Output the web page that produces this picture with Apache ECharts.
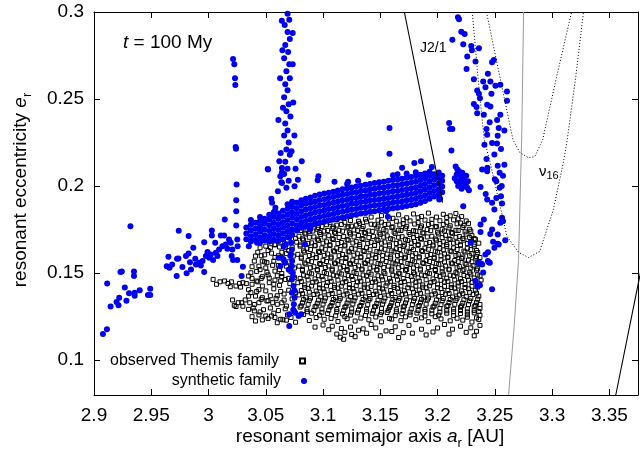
<!DOCTYPE html>
<html><head><meta charset="utf-8">
<script src="https://cdn.jsdelivr.net/npm/echarts@6/dist/echarts.min.js"></script>
<style>html,body{margin:0;padding:0;background:#fff}#c{width:641px;height:456px}</style>
</head><body><div id="c"></div>
<script>
// ---------- tick labels ----------
const xTickLabels = ['2.9','2.95','3','3.05','3.1','3.15','3.2','3.25','3.3','3.35'];
const yTickLabels = ['0.1','0.15','0.2','0.25','0.3'];

// ---------- observed Themis family (open squares) ----------
const themisLeft = [[3.004,.1464],[3.007,.1436],[3.014,.1455],[3.017,.1441],[3.019,.1422],[3.024,.1426],[3.027,.1441],[3.030,.1445],[3.021,.1346],[3.0225,.1315],[3.024,.1308],[3.029,.1330],[3.032,.1346],[3.035,.1368],[3.035,.1483],[3.037,.1502],[3.038,.1537],[3.040,.1569],[3.041,.1598],[3.045,.1646],[3.050,.1655],[3.054,.1646],[3.058,.1665],[3.063,.1678],[3.067,.1646],[3.047,.1569],[3.051,.1560],[3.057,.1569],[3.061,.1544],[3.066,.1560],[3.038,.1436],[3.042,.1455],[3.047,.1426],[3.053,.1445],[3.057,.1436],[3.063,.1455],[3.067,.1464],[3.037,.1388],[3.041,.1368],[3.047,.1359],[3.051,.1340],[3.056,.1330],[3.060,.1321],[3.064,.1330],[3.068,.1311],[3.035,.1292],[3.040,.1283],[3.045,.1277],[3.050,.1254],[3.055,.1254],[3.058,.1245],[3.063,.1235],[3.041,.1225],[3.047,.1231],
[3.010,.1450],[3.020,.1450],[3.028,.1420],[3.033,.1440],[3.026,.1330],[3.030,.1310],[3.039,.1300],[3.044,.1330],[3.054,.1370],[3.060,.1370],[3.066,.1380],[3.046,.1470],[3.052,.1490],[3.058,.1460],[3.064,.1480],[3.070,.1470],[3.044,.1540],[3.050,.1530],[3.062,.1520],[3.068,.1540],[3.046,.1600],[3.052,.1630],[3.058,.1590],[3.064,.1620],[3.070,.1630],[3.055,.1685],[3.062,.1650],[3.069,.1690],[3.044,.1260],[3.057,.1270],[3.069,.1260],[3.060,.1215],[3.068,.1230],[3.038,.1250],[3.036,.1330],[3.042,.1395],[3.038,.1470],[3.042,.1510]];
const themisMid = [[3.043,.1620],[3.049,.1605],[3.055,.1615],[3.061,.1600],[3.068,.1612],[3.074,.1598],[3.045,.1520],[3.051,.1505],[3.058,.1512],[3.064,.1498],[3.072,.1508],[3.047,.1480],[3.053,.1472],[3.060,.1485],[3.075,.1475],[3.044,.1405],[3.050,.1398],[3.057,.1410],[3.063,.1395],[3.070,.1402],[3.076,.1388],[3.046,.1350],[3.052,.1342],[3.059,.1355],[3.066,.1345],[3.073,.1352],[3.048,.1290],[3.054,.1300],[3.061,.1285],[3.067,.1295],[3.075,.1280],[3.052,.1240],[3.065,.1232],[3.072,.1245],[3.076,.1218],[3.073,.1650],[3.076,.1700],[3.070,.1565],[3.075,.1530],[3.071,.1440],[3.062,.1430],[3.056,.1545],[3.049,.1565],[3.043,.1450],[3.040,.1320],[3.035,.1405],[3.058,.1662],[3.050,.1690]];
const themisCore = [
[3.105,.1805],[3.118,.1815],[3.131,.1798],[3.142,.1822],[3.151,.1830],[3.158,.1812],[3.166,.1835],[3.173,.1818],[3.179,.1840],[3.186,.1826],[3.192,.1845],[3.199,.1822],[3.205,.1838],[3.211,.1829],[3.216,.1843],[3.221,.1825],
[3.086,.1772],[3.093,.1785],[3.099,.1768],[3.106,.1790],[3.112,.1776],[3.119,.1792],[3.125,.1770],[3.132,.1786],[3.138,.1795],[3.145,.1778],[3.151,.1793],[3.157,.1781],[3.164,.1798],[3.170,.1785],[3.176,.1800],[3.183,.1790],[3.189,.1805],[3.195,.1786],[3.202,.1801],[3.208,.1792],[3.214,.1806],[3.220,.1788],[3.225,.1800],
[3.081,.1745],[3.088,.1738],[3.095,.1752],[3.101,.1741],[3.108,.1757],[3.114,.1746],[3.121,.1760],[3.127,.1748],[3.134,.1755],[3.140,.1742],[3.147,.1759],[3.153,.1750],[3.160,.1762],[3.166,.1747],[3.172,.1758],[3.179,.1744],[3.185,.1761],[3.191,.1750],[3.198,.1765],[3.204,.1752],[3.210,.1760],[3.216,.1746],[3.222,.1763],[3.228,.1752],
[3.079,.1712],[3.085,.1725],[3.092,.1708],[3.098,.1722],[3.105,.1715],[3.111,.1728],[3.118,.1710],[3.124,.1724],[3.131,.1716],[3.137,.1729],[3.144,.1711],[3.150,.1723],[3.156,.1714],[3.163,.1727],[3.169,.1709],[3.176,.1722],[3.182,.1716],[3.188,.1730],[3.195,.1712],[3.201,.1725],[3.207,.1717],[3.213,.1729],[3.219,.1711],[3.225,.1724],[3.230,.1715],
[3.077,.1678],[3.083,.1690],[3.090,.1674],[3.096,.1688],[3.103,.1680],[3.109,.1693],[3.116,.1676],[3.122,.1689],[3.129,.1681],[3.135,.1694],[3.142,.1677],[3.148,.1687],[3.154,.1679],[3.161,.1692],[3.167,.1675],[3.174,.1688],[3.180,.1682],[3.186,.1695],[3.193,.1676],[3.199,.1689],[3.205,.1680],[3.211,.1693],[3.217,.1677],[3.223,.1690],[3.229,.1681],[3.233,.1694],
[3.080,.1655],[3.086,.1642],[3.093,.1657],[3.099,.1645],[3.106,.1658],[3.112,.1644],[3.119,.1656],[3.125,.1641],[3.132,.1654],[3.138,.1646],[3.145,.1659],[3.151,.1643],[3.158,.1655],[3.164,.1640],[3.170,.1653],[3.177,.1647],[3.183,.1660],[3.189,.1644],[3.196,.1656],[3.202,.1642],[3.208,.1654],[3.214,.1645],[3.220,.1658],[3.226,.1643],[3.232,.1655],
[3.078,.1608],[3.084,.1620],[3.091,.1606],[3.097,.1619],[3.104,.1610],[3.110,.1623],[3.117,.1607],[3.123,.1621],[3.130,.1611],[3.136,.1624],[3.143,.1605],[3.149,.1618],[3.156,.1609],[3.162,.1622],[3.168,.1606],[3.175,.1619],[3.181,.1612],[3.187,.1625],[3.194,.1607],[3.200,.1620],[3.206,.1610],[3.212,.1623],[3.218,.1608],[3.224,.1621],[3.230,.1611],[3.235,.1619],
[3.081,.1585],[3.087,.1572],[3.094,.1588],[3.100,.1574],[3.107,.1586],[3.113,.1571],[3.120,.1584],[3.126,.1575],[3.133,.1589],[3.139,.1573],[3.146,.1587],[3.152,.1576],[3.159,.1583],[3.165,.1570],[3.171,.1586],[3.178,.1574],[3.184,.1588],[3.190,.1572],[3.197,.1585],[3.203,.1577],[3.209,.1589],[3.215,.1573],[3.221,.1584],[3.227,.1575],[3.233,.1587],
[3.079,.1540],[3.085,.1552],[3.092,.1537],[3.098,.1550],[3.105,.1541],[3.111,.1554],[3.118,.1538],[3.124,.1551],[3.131,.1542],[3.137,.1555],[3.144,.1536],[3.150,.1549],[3.157,.1540],[3.163,.1553],[3.169,.1539],[3.176,.1550],[3.182,.1543],[3.188,.1556],[3.195,.1537],[3.201,.1551],[3.207,.1541],[3.213,.1554],[3.219,.1538],[3.225,.1550],[3.231,.1542],[3.236,.1553],
[3.082,.1515],[3.088,.1502],[3.095,.1517],[3.101,.1504],[3.108,.1516],[3.114,.1501],[3.121,.1514],[3.127,.1505],[3.134,.1519],[3.140,.1503],[3.147,.1517],[3.153,.1506],[3.160,.1513],[3.166,.1500],[3.172,.1516],[3.179,.1504],[3.185,.1518],[3.191,.1502],[3.198,.1515],[3.204,.1507],[3.210,.1519],[3.216,.1503],[3.222,.1514],[3.228,.1505],[3.234,.1517],
[3.080,.1470],[3.086,.1482],[3.093,.1467],[3.099,.1480],[3.106,.1471],[3.112,.1484],[3.119,.1468],[3.125,.1481],[3.132,.1472],[3.138,.1485],[3.145,.1466],[3.151,.1479],[3.158,.1470],[3.164,.1483],[3.170,.1469],[3.177,.1480],[3.183,.1473],[3.189,.1486],[3.196,.1467],[3.202,.1481],[3.208,.1471],[3.214,.1484],[3.220,.1468],[3.226,.1480],[3.232,.1472],[3.237,.1483],
[3.078,.1445],[3.084,.1432],[3.091,.1447],[3.097,.1434],[3.104,.1446],[3.110,.1431],[3.117,.1444],[3.123,.1435],[3.130,.1449],[3.136,.1433],[3.143,.1447],[3.149,.1436],[3.156,.1443],[3.162,.1430],[3.168,.1446],[3.175,.1434],[3.181,.1448],[3.187,.1432],[3.194,.1445],[3.200,.1437],[3.206,.1449],[3.212,.1433],[3.218,.1444],[3.224,.1435],[3.230,.1447],[3.236,.1438],
[3.081,.1400],[3.087,.1412],[3.094,.1397],[3.100,.1410],[3.107,.1401],[3.113,.1414],[3.120,.1398],[3.126,.1411],[3.133,.1402],[3.139,.1415],[3.146,.1396],[3.152,.1409],[3.159,.1400],[3.165,.1413],[3.171,.1399],[3.178,.1410],[3.184,.1403],[3.190,.1416],[3.197,.1397],[3.203,.1411],[3.209,.1401],[3.215,.1414],[3.221,.1398],[3.227,.1410],[3.233,.1402],
[3.079,.1375],[3.085,.1362],[3.092,.1377],[3.098,.1364],[3.105,.1376],[3.111,.1361],[3.118,.1374],[3.124,.1365],[3.131,.1379],[3.137,.1363],[3.144,.1377],[3.150,.1366],[3.157,.1373],[3.163,.1360],[3.169,.1376],[3.176,.1364],[3.182,.1378],[3.188,.1362],[3.195,.1375],[3.201,.1367],[3.207,.1379],[3.213,.1363],[3.219,.1374],[3.225,.1365],[3.231,.1377],[3.236,.1368],
[3.082,.1330],[3.088,.1342],[3.095,.1327],[3.101,.1340],[3.108,.1331],[3.114,.1344],[3.121,.1328],[3.127,.1341],[3.134,.1332],[3.140,.1345],[3.147,.1326],[3.153,.1339],[3.160,.1330],[3.166,.1343],[3.172,.1329],[3.179,.1340],[3.185,.1333],[3.191,.1346],[3.198,.1327],[3.204,.1341],[3.210,.1331],[3.216,.1344],[3.222,.1328],[3.228,.1340],[3.234,.1332],
[3.080,.1305],[3.086,.1292],[3.093,.1307],[3.099,.1294],[3.106,.1306],[3.112,.1291],[3.119,.1304],[3.125,.1295],[3.132,.1309],[3.138,.1293],[3.145,.1307],[3.151,.1296],[3.158,.1303],[3.164,.1290],[3.170,.1306],[3.177,.1294],[3.183,.1308],[3.189,.1292],[3.196,.1305],[3.202,.1297],[3.208,.1309],[3.214,.1293],[3.220,.1304],[3.226,.1295],[3.232,.1307],[3.237,.1298],
[3.083,.1262],[3.090,.1270],[3.097,.1258],[3.104,.1268],[3.111,.1255],[3.117,.1266],[3.124,.1259],[3.130,.1272],[3.137,.1257],[3.143,.1269],[3.150,.1261],[3.156,.1274],[3.163,.1256],[3.169,.1267],[3.176,.1260],[3.182,.1271],[3.189,.1254],[3.195,.1266],[3.201,.1259],[3.208,.1270],[3.214,.1256],[3.220,.1268],[3.226,.1261],[3.232,.1272],[3.237,.1258],
[3.088,.1228],[3.101,.1235],[3.113,.1222],[3.121,.1238],[3.128,.1225],[3.140,.1232],[3.151,.1220],[3.160,.1236],[3.168,.1227],[3.181,.1233],[3.192,.1221],[3.203,.1237],[3.211,.1226],[3.222,.1230],[3.230,.1219],[3.236,.1234]];
const themisCore2 = [
[3.112,.1808],[3.124,.1802],[3.137,.1810],[3.148,.1804],[3.161,.1815],[3.170,.1806],[3.183,.1818],[3.195,.1809],[3.208,.1820],[3.218,.1812],
[3.083,.1760],[3.090,.1775],[3.096,.1762],[3.103,.1778],[3.109,.1765],[3.116,.1780],[3.122,.1767],[3.129,.1776],[3.135,.1768],[3.142,.1781],[3.148,.1770],[3.154,.1779],[3.161,.1766],[3.167,.1777],[3.173,.1769],[3.180,.1782],[3.186,.1771],[3.192,.1779],[3.199,.1768],[3.205,.1780],[3.211,.1772],[3.217,.1783],[3.223,.1774],[3.227,.1786],
[3.084,.1730],[3.091,.1742],[3.097,.1733],[3.104,.1745],[3.110,.1735],[3.117,.1741],[3.123,.1732],[3.130,.1744],[3.136,.1734],[3.143,.1740],[3.149,.1731],[3.155,.1743],[3.162,.1736],[3.168,.1745],[3.175,.1733],[3.181,.1741],[3.187,.1731],[3.194,.1744],[3.200,.1735],[3.206,.1742],[3.212,.1733],[3.218,.1745],[3.224,.1737],[3.229,.1741],
[3.082,.1697],[3.088,.1706],[3.095,.1695],[3.101,.1707],[3.108,.1698],[3.114,.1705],[3.121,.1694],[3.127,.1708],[3.134,.1699],[3.140,.1704],[3.147,.1695],[3.153,.1707],[3.159,.1698],[3.166,.1706],[3.172,.1694],[3.179,.1705],[3.185,.1699],[3.191,.1708],[3.198,.1696],[3.204,.1704],[3.210,.1697],[3.216,.1706],[3.222,.1699],[3.228,.1705],[3.232,.1698],
[3.080,.1662],[3.087,.1671],[3.093,.1660],[3.100,.1672],[3.106,.1663],[3.113,.1670],[3.119,.1661],[3.126,.1673],[3.132,.1664],[3.139,.1671],[3.145,.1660],[3.151,.1672],[3.158,.1663],[3.164,.1670],[3.171,.1661],[3.177,.1673],[3.183,.1665],[3.190,.1671],[3.196,.1662],[3.202,.1670],[3.208,.1664],[3.214,.1672],[3.220,.1663],[3.226,.1670],[3.232,.1666],[3.236,.1672],
[3.083,.1628],[3.089,.1636],[3.096,.1625],[3.102,.1637],[3.109,.1628],[3.115,.1635],[3.122,.1626],[3.128,.1638],[3.135,.1629],[3.141,.1634],[3.147,.1625],[3.154,.1637],[3.160,.1628],[3.167,.1636],[3.173,.1626],[3.179,.1635],[3.186,.1629],[3.192,.1637],[3.198,.1626],[3.205,.1634],[3.211,.1628],[3.217,.1636],[3.223,.1627],[3.229,.1635],[3.234,.1630],
[3.081,.1592],[3.088,.1601],[3.094,.1590],[3.101,.1602],[3.107,.1593],[3.114,.1600],[3.120,.1591],[3.127,.1603],[3.133,.1594],[3.140,.1599],[3.146,.1590],[3.152,.1602],[3.159,.1593],[3.165,.1601],[3.172,.1591],[3.178,.1600],[3.184,.1594],[3.191,.1602],[3.197,.1591],[3.203,.1599],[3.209,.1593],[3.216,.1601],[3.222,.1592],[3.228,.1600],[3.234,.1595],[3.237,.1590],
[3.084,.1558],[3.090,.1566],[3.097,.1555],[3.103,.1567],[3.110,.1558],[3.116,.1565],[3.123,.1556],[3.129,.1568],[3.136,.1559],[3.142,.1564],[3.148,.1555],[3.155,.1567],[3.161,.1558],[3.168,.1566],[3.174,.1556],[3.180,.1565],[3.187,.1559],[3.193,.1567],[3.199,.1556],[3.206,.1564],[3.212,.1558],[3.218,.1566],[3.224,.1557],[3.230,.1565],[3.235,.1560],
[3.082,.1522],[3.089,.1531],[3.095,.1520],[3.102,.1532],[3.108,.1523],[3.115,.1530],[3.121,.1521],[3.128,.1533],[3.134,.1524],[3.141,.1529],[3.147,.1520],[3.153,.1532],[3.160,.1523],[3.166,.1531],[3.173,.1521],[3.179,.1530],[3.185,.1524],[3.192,.1532],[3.198,.1521],[3.204,.1529],[3.210,.1523],[3.217,.1531],[3.223,.1522],[3.229,.1530],[3.235,.1525],
[3.083,.1488],[3.090,.1496],[3.096,.1485],[3.103,.1497],[3.109,.1488],[3.116,.1495],[3.122,.1486],[3.129,.1498],[3.135,.1489],[3.142,.1494],[3.148,.1485],[3.154,.1497],[3.161,.1488],[3.167,.1496],[3.174,.1486],[3.180,.1495],[3.186,.1489],[3.193,.1497],[3.199,.1486],[3.205,.1494],[3.211,.1488],[3.217,.1496],[3.223,.1487],[3.229,.1495],[3.235,.1490],
[3.081,.1452],[3.087,.1461],[3.094,.1450],[3.100,.1462],[3.107,.1453],[3.113,.1460],[3.120,.1451],[3.126,.1463],[3.133,.1454],[3.139,.1459],[3.146,.1450],[3.152,.1462],[3.159,.1453],[3.165,.1461],[3.171,.1451],[3.178,.1460],[3.184,.1454],[3.190,.1462],[3.197,.1451],[3.203,.1459],[3.209,.1453],[3.215,.1461],[3.221,.1452],[3.227,.1460],[3.233,.1455],[3.238,.1460],
[3.084,.1418],[3.090,.1426],[3.097,.1415],[3.103,.1427],[3.110,.1418],[3.116,.1425],[3.123,.1416],[3.129,.1428],[3.136,.1419],[3.142,.1424],[3.149,.1415],[3.155,.1427],[3.162,.1418],[3.168,.1426],[3.174,.1416],[3.181,.1425],[3.187,.1419],[3.193,.1427],[3.200,.1416],[3.206,.1424],[3.212,.1418],[3.218,.1426],[3.224,.1417],[3.230,.1425],[3.235,.1420],
[3.082,.1382],[3.088,.1391],[3.095,.1380],[3.101,.1392],[3.108,.1383],[3.114,.1390],[3.121,.1381],[3.127,.1393],[3.134,.1384],[3.140,.1389],[3.147,.1380],[3.153,.1392],[3.160,.1383],[3.166,.1391],[3.172,.1381],[3.179,.1390],[3.185,.1384],[3.191,.1392],[3.198,.1381],[3.204,.1389],[3.210,.1383],[3.216,.1391],[3.222,.1382],[3.228,.1390],[3.234,.1385],
[3.083,.1348],[3.089,.1356],[3.096,.1345],[3.102,.1357],[3.109,.1348],[3.115,.1355],[3.122,.1346],[3.128,.1358],[3.135,.1349],[3.141,.1354],[3.148,.1345],[3.154,.1357],[3.161,.1348],[3.167,.1356],[3.173,.1346],[3.180,.1355],[3.186,.1349],[3.192,.1357],[3.199,.1346],[3.205,.1354],[3.211,.1348],[3.217,.1356],[3.223,.1347],[3.229,.1355],[3.235,.1350],
[3.081,.1312],[3.087,.1321],[3.094,.1310],[3.100,.1322],[3.107,.1313],[3.113,.1320],[3.120,.1311],[3.126,.1323],[3.133,.1314],[3.139,.1319],[3.146,.1310],[3.152,.1322],[3.159,.1313],[3.165,.1321],[3.171,.1311],[3.178,.1320],[3.184,.1314],[3.190,.1322],[3.197,.1311],[3.203,.1319],[3.209,.1313],[3.215,.1321],[3.221,.1312],[3.227,.1320],[3.233,.1315],[3.237,.1320],
[3.086,.1278],[3.092,.1286],[3.099,.1275],[3.105,.1287],[3.112,.1278],[3.118,.1285],[3.125,.1276],[3.131,.1288],[3.138,.1279],[3.144,.1284],[3.151,.1275],[3.157,.1287],[3.164,.1278],[3.170,.1286],[3.176,.1276],[3.183,.1285],[3.189,.1279],[3.195,.1287],[3.202,.1276],[3.208,.1284],[3.214,.1278],[3.220,.1286],[3.226,.1277],[3.232,.1285],[3.236,.1280],
[3.094,.1245],[3.107,.1240],[3.119,.1250],[3.133,.1242],[3.146,.1248],[3.158,.1240],[3.172,.1249],[3.186,.1243],[3.198,.1250],[3.217,.1241],[3.226,.1247],[3.234,.1243]];
const themisTail = [[3.108,.1195],[3.116,.1182],[3.119,.1160],[3.124,.1190],[3.112,.1150],[3.118,.1120],[3.125,.1148],[3.131,.1172],[3.138,.1155],[3.146,.1185],[3.155,.1168],[3.163,.1192],[3.170,.1158],[3.178,.1155],[3.186,.1178],[3.196,.1162],[3.206,.1205],[3.213,.1178],[3.220,.1195],[3.229,.1186],[3.234,.1166],[3.237,.1200],[3.100,.1202],[3.093,.1190],[3.142,.1205],[3.175,.1200],
[3.105,.1175],[3.128,.1135],[3.135,.1180],[3.150,.1140],[3.160,.1165],[3.166,.1130],[3.190,.1145],[3.200,.1185],[3.210,.1150],[3.225,.1160],[3.232,.1140],[3.115,.1132]];

// ---------- synthetic family (filled dots) ----------
const synthTail = [[2.9078,.1150],[2.9113,.1178],[2.9115,.1440],[2.9145,.1308],[2.9197,.1334],[2.9220,.1359],[2.9214,.1315],[2.9231,.1506],[2.9243,.1510],[2.9269,.1417],[2.9283,.1342],[2.9306,.1384],[2.9318,.1770],[2.9349,.1510],[2.9349,.1483],[2.9355,.1388],[2.9355,.1370],[2.9399,.1401],[2.9471,.1374],[2.9491,.1411],[2.9491,.1374]];
const synthRise = [[2.9650,.1594],[2.9635,.1540],[2.9659,.1531],[2.9682,.1550],[2.9725,.1583],[2.9737,.1584],[2.9722,.1483],[2.9740,.1743],[2.9772,.1535],[2.9803,.1598],[2.9809,.1499],[2.9826,.1613],[2.9826,.1714],[2.9838,.1563],[2.9847,.1521],[2.9867,.1646],[2.9884,.1583],[2.9890,.1550],[2.9919,.1560],[2.9933,.1544],[2.9948,.1569],[2.9962,.1506],[2.9962,.1678],[2.9977,.1598],[2.9991,.1621],[3.0006,.1588],[3.0020,.1607],[3.0029,.1745],[3.0029,.1716],[3.0040,.1575],[3.0058,.1674],[3.0064,.1617],[3.0078,.1598],[3.0092,.1636],[3.0107,.1716],[3.0121,.1655],[3.0136,.1716],[3.0142,.1808],[3.0150,.1665],[3.0164,.1640],[3.0179,.1693],[3.0194,.1674],[3.0202,.1598],[3.0208,.1636],[3.0214,.1575],[3.0300,.1537],[3.0289,.1483],[3.0352,.1655],[3.0424,.1674],[3.0641,.1588],[3.0627,.1540]];
const synthStreakA = [[3.0214,.2730],[3.0225,.2700],[3.0231,.2620],[3.0234,.2580],[3.0237,.2225],[3.0240,.2215],[3.0245,.2009],[3.0242,.1919],[3.0242,.1856],[3.0242,.1774],[3.0251,.1693],[3.0254,.1655],[3.0251,.1575]];
const synthStreakB = [[3.069,.2990],[3.0705,.2955],[3.0665,.2925],[3.069,.2885],[3.071,.2845],[3.067,.2810],[3.0695,.2770],[3.066,.2735],[3.0705,.2700],[3.068,.2660],[3.071,.2620],[3.067,.2585],[3.069,.2550],[3.066,.2510],[3.070,.2470],[3.068,.2430],[3.0715,.2400],[3.067,.2360],[3.069,.2320],[3.066,.2290],[3.070,.2250],[3.068,.2210],[3.071,.2180],[3.067,.2140],[3.069,.2100],[3.066,.2070],[3.070,.2030],[3.068,.1990],
[3.0625,.2620],[3.074,.2480],[3.061,.2380],[3.075,.2290],[3.063,.2190],[3.076,.2100],[3.0645,.2780],[3.0735,.2700],[3.0650,.2450],[3.0725,.2200],[3.0640,.2950],[3.0735,.2880],
[3.0714,.1741],[3.0705,.1703],[3.0722,.1675],[3.0728,.1636],[3.0714,.1598],[3.0728,.1540],[3.0736,.1502],[3.0728,.1464],[3.0742,.1426],[3.0728,.1388],[3.0751,.1359],[3.0745,.1321],[3.0757,.1273],[3.0705,.1264],[3.0786,.1254],[3.0809,.1264],[3.0705,.1197],[3.0612,.1588],[3.0656,.1579],[3.0670,.1560],[3.0656,.1655],[3.0675,.1665],[3.0730,.1570],[3.0738,.1480],[3.0750,.1400],[3.0720,.1610],[3.0700,.1520],[3.0740,.1290]];
// dense band: [x, [e values]]
const synthBand = [
[3.033,[.1695,.1728,.1762]],[3.037,[.1682,.1712,.1745,.1778,.1805]],[3.041,[.1690,.1722,.1755,.1790]],[3.045,[.1675,.1705,.1738,.1770,.1800,.1822]],
[3.049,[.1688,.1718,.1750,.1783,.1812]],[3.053,[.1680,.1710,.1742,.1775,.1808,.1835]],[3.057,[.1692,.1725,.1758,.1790,.1822,.1850]],[3.061,[.1684,.1715,.1748,.1780,.1812,.1842]],
[3.065,[.1695,.1728,.1760,.1793,.1825,.1858]],[3.069,[.1708,.1740,.1772,.1805,.1838,.1870,.1895]],[3.073,[.1720,.1752,.1785,.1818,.1850,.1882,.1910]],[3.077,[.1745,.1775,.1808,.1840,.1872,.1905]],
[3.081,[.1760,.1790,.1822,.1855,.1888,.1918]],[3.085,[.1768,.1800,.1832,.1865,.1898,.1928]],[3.089,[.1775,.1808,.1840,.1872,.1905,.1935]],[3.093,[.1782,.1815,.1848,.1880,.1912,.1945]],
[3.097,[.1790,.1822,.1855,.1888,.1920,.1952]],[3.101,[.1795,.1828,.1860,.1892,.1925,.1958]],[3.105,[.1802,.1835,.1868,.1900,.1932,.1962]],[3.109,[.1808,.1840,.1872,.1905,.1938,.1968]],
[3.113,[.1815,.1848,.1880,.1912,.1945,.1975]],[3.117,[.1820,.1852,.1885,.1918,.1950,.1982]],[3.121,[.1826,.1858,.1890,.1922,.1955,.1988,.2012]],[3.125,[.1832,.1865,.1898,.1930,.1962,.1992]],
[3.129,[.1836,.1868,.1900,.1932,.1965,.1998]],[3.133,[.1842,.1875,.1908,.1940,.1972,.2002]],[3.137,[.1846,.1878,.1910,.1942,.1975,.2008]],[3.141,[.1852,.1885,.1918,.1950,.1982,.2012]],
[3.145,[.1856,.1888,.1920,.1952,.1985,.2018]],[3.149,[.1860,.1892,.1925,.1958,.1990,.2022]],[3.153,[.1864,.1896,.1928,.1960,.1992,.2025]],[3.157,[.1868,.1900,.1932,.1965,.1998,.2030]],
[3.161,[.1872,.1905,.1938,.1970,.2002,.2035,.2062]],[3.165,[.1876,.1908,.1940,.1972,.2005,.2038,.2068]],[3.169,[.1880,.1912,.1945,.1978,.2010,.2042]],[3.173,[.1885,.1918,.1950,.1982,.2015,.2048,.2072]],
[3.177,[.1890,.1922,.1955,.1988,.2020,.2052]],[3.181,[.1895,.1928,.1960,.1992,.2025,.2058,.2080]],[3.185,[.1905,.1938,.1970,.2002,.2035,.2065]],[3.189,[.1915,.1948,.1980,.2012,.2045,.2072]],
[3.193,[.1928,.1960,.1992,.2025,.2058,.2082]],[3.197,[.1940,.1972,.2005,.2038,.2068]],[3.201,[.1950,.1982,.2015,.2048,.2078]],[3.204,[.1965,.1998,.2030,.2060]]];
const synthScatter = [[3.0959,.2056],[3.0953,.2033],[3.1219,.2025],[3.1306,.2030],[3.1580,.2186],[3.1797,.2133],[3.1855,.2142],[3.1580,.2333],[3.0887,.1751],[3.1551,.1856],[3.1566,.1824],[3.2014,.1923],[3.2022,.1927],[3.0814,.2142],[3.0780,.2037],[3.0751,.1999],[3.0520,.2095],[3.0618,.2142],[3.0641,.2104],[3.0627,.2056],[3.0641,.2018],[3.0606,.1970],[3.0549,.1927],[3.0555,.1904],[3.0578,.1856],[3.0491,.1798],[3.0517,.2098],[3.0641,.2079],[3.0636,.2022],[3.0584,.1875],[3.0843,.1665],[3.1100,.2025],[3.1400,.2065],[3.1690,.2105],[3.1950,.2110]];
const synthCluster = [[3.2101,.2362],[3.2109,.2328],[3.2129,.2328],[3.2121,.2205],[3.2158,.2113],[3.2173,.2095],[3.2167,.2066],[3.2187,.2085],[3.2201,.2056],[3.2216,.2076],[3.2187,.2028],[3.2230,.2037],[3.2245,.2009],[3.2259,.1990],[3.2201,.2018],[3.2167,.2028],[3.2236,.2056],[3.2265,.2028],[3.2224,.1999],[3.2274,.1976],[3.2150,.2045],[3.2180,.2000],[3.2210,.1985],[3.2250,.2060],[3.2224,.1884]];
const synthRight = [[3.2178,.2970],[3.2187,.2958],[3.2207,.2887],[3.2236,.2874],[3.2129,.2840],[3.2224,.2815],[3.2294,.2805],[3.2361,.2792],[3.2259,.2744],[3.2253,.2673],[3.2331,.2715],[3.2491,.2725],[3.2476,.2712],[3.2317,.2614],[3.2398,.2601],[3.2439,.2645],[3.2461,.2601],[3.2505,.2576],[3.2548,.2582],[3.2346,.2549],[3.2361,.2530],[3.2418,.2568],[3.2606,.2543],[3.2370,.2505],[3.2606,.2490],[3.2317,.2471],[3.2340,.2454],[3.2433,.2467],[3.2461,.2457],[3.2346,.2419],[3.2404,.2410],[3.2548,.2410],[3.2455,.2366],[3.2427,.2328],[3.2534,.2333],[3.2583,.2320],[3.2433,.2295],[3.2525,.2289],[3.2409,.2238],[3.2476,.2248],[3.2519,.2244],[3.2554,.2213],[3.2496,.2181],[3.2427,.2156],[3.2525,.2117],[3.2583,.2123],[3.2542,.2076],[3.2571,.2060],[3.2389,.2095],[3.2433,.2085],[3.2513,.2028],[3.2542,.1990],[3.2375,.1995],[3.2433,.1923],[3.2476,.1904],[3.2513,.1932],[3.2554,.1942],[3.2496,.1865],[3.2563,.1900],[3.2404,.1808],[3.2571,.1798],[3.2375,.1779],[3.2375,.1737],[3.2476,.1751],[3.2525,.1722],[3.2591,.1689],[3.2485,.1680],[3.2525,.1669],[3.2496,.1646],[3.2418,.1607],[3.2439,.1569],[3.2381,.1556],[3.2398,.1503],[3.2476,.1407],[3.2331,.1455],[3.2346,.1426],[3.2548,.1789],[3.2563,.1818],[3.2534,.1665],[3.2288,.1674],[3.2361,.1560],[3.2456,.1560],[3.2389,.1550],[3.2447,.1563],[3.2370,.1430],[3.2435,.2105],[3.2500,.2040],[3.2560,.2000],[3.2300,.2780],[3.2470,.2530],[3.2520,.2380],[3.2420,.1955],[3.2460,.1725],[3.2440,.1620]];

// ---------- resonance / secular curves ----------
const j21Line = [[3.171,.3],[3.2043,.1905]];
const greyLine = [[3.2751,.3],[3.2736,.2324],[3.2707,.1579],[3.2669,.1197],[3.2620,.08]];
const nu16Outer = [[3.2303,.3],[3.2352,.263],[3.2407,.2267],[3.2459,.2135],[3.2606,.1711],[3.2708,.1619],[3.2794,.159],[3.2892,.1625],[3.3011,.1865],[3.3098,.2135],[3.3132,.2267],[3.3207,.263],[3.3274,.3]];
const nu16Inner = [[3.2427,.3],[3.2543,.263],[3.2658,.2267],[3.2719,.2192],[3.2794,.2163],[3.2849,.2169],[3.2918,.2267],[3.3040,.263],[3.3170,.3]];
const rightLine = [[3.3556,.08],[3.3742,.1407],[3.3780,.153]];

const FONT = '"Liberation Sans", Arial, Helvetica, sans-serif';
const observed = themisLeft.concat(themisMid, themisCore, themisCore2, themisTail);
const bandPts = [];
synthBand.forEach(c => c[1].forEach(e => bandPts.push([c[0], e])));
const synthetic = synthTail.concat(synthRise, synthStreakA, bandPts, synthStreakB, synthScatter, synthCluster, synthRight);

function lab(list) {
  return v => { const s = list.find(t => Math.abs(parseFloat(t) - v) < 1e-6); return s || ''; };
}
const axisCommon = {
  axisLine: {show: true, onZero: false, lineStyle: {color: '#000', width: 1}},
  axisTick: {show: true, inside: true, length: 6, lineStyle: {color: '#000', width: 1}},
  splitLine: {show: false}
};
const chart = echarts.init(document.getElementById('c'), null, {renderer: 'canvas'});
chart.setOption({
  animation: false,
  backgroundColor: '#fff',
  grid: {left: 94, top: 12, width: 548, height: 383, show: false},
  xAxis: [
    Object.assign({type: 'value', min: 2.9, max: 3.375, interval: 0.05, position: 'bottom',
      axisLabel: {formatter: lab(xTickLabels), fontSize: 19, color: '#000', fontFamily: FONT, margin: 11}}, axisCommon),
    Object.assign({type: 'value', min: 2.9, max: 3.375, interval: 0.05, position: 'top',
      axisLabel: {show: false}}, axisCommon)
  ],
  yAxis: [
    Object.assign({type: 'value', min: 0.08, max: 0.3, splitNumber: 5, position: 'left',
      axisLabel: {formatter: lab(yTickLabels), fontSize: 19, color: '#000', fontFamily: FONT, margin: 10}}, axisCommon),
    Object.assign({type: 'value', min: 0.08, max: 0.3, splitNumber: 5, position: 'right',
      axisLabel: {show: false}}, axisCommon)
  ],
  legend: [
    {data: ['observed Themis family'], orient: 'vertical', align: 'right', right: 335, top: 351, padding: 0,
     itemWidth: 5, itemHeight: 5, selectedMode: false,
     textStyle: {fontSize: 16, fontFamily: FONT, color: '#000', lineHeight: 20, padding: [0, 16, 0, 0]}},
    {data: ['synthetic family'], orient: 'vertical', align: 'right', right: 334, top: 371, padding: 0,
     itemWidth: 6, itemHeight: 6, selectedMode: false,
     textStyle: {fontSize: 16, fontFamily: FONT, color: '#000', lineHeight: 20, padding: [0, 15, 0, 0]}}
  ],
  graphic: [
    {type: 'text', x: 123, y: 43, style: {text: '{i|t} = 100 My', fontSize: 19, fontFamily: FONT, fill: '#000',
      textVerticalAlign: 'middle', verticalAlign: 'middle',
      rich: {i: {fontStyle: 'italic', fontSize: 19, fontFamily: FONT}}}},
    {type: 'text', x: 420, y: 48, style: {text: 'J2/1', fontSize: 14, fontFamily: FONT, fill: '#000',
      textVerticalAlign: 'middle', verticalAlign: 'middle'}},
    {type: 'text', x: 539, y: 172, style: {text: 'ν{s|16}', fontSize: 15, fontFamily: FONT, fill: '#000',
      textVerticalAlign: 'middle', verticalAlign: 'middle',
      rich: {s: {fontSize: 11, fontFamily: FONT, padding: [8, 0, 0, 0]}}}},
    {type: 'text', x: 370, y: 437, style: {text: 'resonant semimajor axis {i|a}{s|r} [AU]', fontSize: 19, fontFamily: FONT, fill: '#000',
      textAlign: 'center', align: 'center', textVerticalAlign: 'middle', verticalAlign: 'middle',
      rich: {i: {fontStyle: 'italic', fontSize: 19, fontFamily: FONT}, s: {fontSize: 13, fontFamily: FONT, padding: [12, 0, 0, 0]}}}},
    {type: 'text', x: 21, y: 190, rotation: Math.PI / 2, style: {text: 'resonant eccentricity {i|e}{s|r}', fontSize: 19, fontFamily: FONT, fill: '#000',
      textAlign: 'center', align: 'center', textVerticalAlign: 'middle', verticalAlign: 'middle',
      rich: {i: {fontStyle: 'italic', fontSize: 19, fontFamily: FONT}, s: {fontSize: 13, fontFamily: FONT, padding: [12, 0, 0, 0]}}}}
  ],
  series: [
    {name: 'observed Themis family', type: 'scatter', data: observed, symbol: 'rect', symbolSize: 4, progressive: 0,
     itemStyle: {color: 'rgba(0,0,0,0)', borderColor: '#000', borderWidth: 1, opacity: 1}, z: 2},
    {name: 'synthetic family', type: 'scatter', data: synthetic, symbol: 'circle', symbolSize: 6, progressive: 0,
     itemStyle: {color: '#0000f2', opacity: 1}, z: 3},
    {type: 'line', data: j21Line, showSymbol: false, symbol: 'none', silent: true, z: 4, lineStyle: {color: '#000', width: 1.1}},
    {type: 'line', data: greyLine, showSymbol: false, symbol: 'none', silent: true, z: 4, lineStyle: {color: '#999', width: 1}},
    {type: 'line', data: nu16Outer, showSymbol: false, symbol: 'none', silent: true, z: 4, lineStyle: {color: '#000', width: 1, type: [1, 2]}},
    {type: 'line', data: nu16Inner, showSymbol: false, symbol: 'none', silent: true, z: 4, lineStyle: {color: '#000', width: 1, type: [1, 2]}},
    {type: 'line', data: rightLine, showSymbol: false, symbol: 'none', silent: true, z: 4, lineStyle: {color: '#000', width: 1.1}}
  ]
});
</script></body></html>
